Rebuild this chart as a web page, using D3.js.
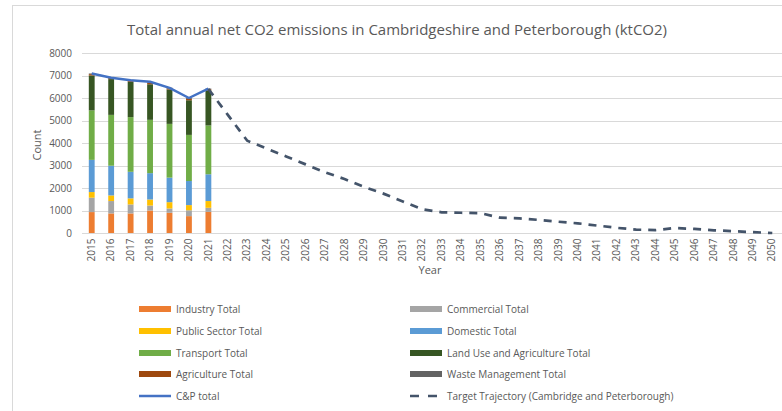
<!DOCTYPE html>
<html><head><meta charset="utf-8">
<script src="https://cdn.jsdelivr.net/npm/d3@7"></script>
<style>
html,body{margin:0;padding:0;background:#fff;}
svg{display:block;font-family:"Open Sans","Liberation Sans",sans-serif;}
</style></head>
<body>
<svg id="chart" width="782" height="411"></svg>
<script>
const years = d3.range(2015, 2051).map(String);
const histYears = ["2015","2016","2017","2018","2019","2020","2021"];
const industry     = [930, 870, 870, 1000, 900, 750, 940];
const commercial   = [640, 550, 400, 220, 190, 260, 180];
const publicSector = [250, 250, 270, 270, 280, 230, 300];
const domestic     = [1430, 1320, 1180, 1170, 1090, 1070, 1190];
const transport    = [2200, 2260, 2430, 2370, 2390, 2050, 2170];
const landUse      = [1550, 1590, 1570, 1580, 1530, 1540, 1560];
const agriculture  = [60, 60, 60, 60, 50, 60, 50];
const waste        = [30, 30, 30, 30, 30, 40, 30];
const cpTotal      = [7090, 6900, 6790, 6720, 6450, 6000, 6420];
const targetYears  = d3.range(2021, 2051).map(String);
const target       = [6400, 5250, 4100, 3750, 3400, 3050, 2700, 2400, 2050, 1750, 1400, 1050, 920, 900, 880, 680, 650, 580, 500, 430, 330, 230, 150, 130, 220, 180, 120, 80, 40, 0];
const yTicks = [0,1000,2000,3000,4000,5000,6000,7000,8000];
const title = "Total annual net CO2 emissions in Cambridgeshire and Peterborough (ktCO2)";

const series = [
  {name:"Industry Total", values:industry, color:"#ED7D31"},
  {name:"Commercial Total", values:commercial, color:"#A5A5A5"},
  {name:"Public Sector Total", values:publicSector, color:"#FFC000"},
  {name:"Domestic Total", values:domestic, color:"#5B9BD5"},
  {name:"Transport Total", values:transport, color:"#70AD47"},
  {name:"Land Use and Agriculture Total", values:landUse, color:"#375623"},
  {name:"Agriculture Total", values:agriculture, color:"#9E480E"},
  {name:"Waste Management Total", values:waste, color:"#636363"}
];

const svg = d3.select("#chart");
const textColor = "#595959";
const gridColor = "#D9D9D9";

// outer border
svg.append("rect").attr("x",12.5).attr("y",5.5).attr("width",800).attr("height",420)
  .attr("fill","none").attr("stroke","#D9D9D9").attr("stroke-width",1);

const x = d3.scaleBand().domain(years).range([82, 782]).paddingInner(0.7).paddingOuter(0.35);
const y = d3.scaleLinear().domain([0, 8000]).range([233, 53]);
const xc = d => x(d) + x.bandwidth()/2;

// title
svg.append("text").attr("x",397).attr("y",35).attr("text-anchor","middle")
  .attr("font-size",15).attr("fill",textColor).text(title);

// gridlines
svg.append("g").selectAll("line").data(yTicks).join("line")
  .attr("x1",82).attr("x2",782).attr("y1",d=>Math.round(y(d))+0.5).attr("y2",d=>Math.round(y(d))+0.5)
  .attr("stroke",gridColor).attr("stroke-width",1);

// y axis
const yAxis = svg.append("g").attr("transform","translate(76,0)")
  .call(d3.axisLeft(y).tickValues(yTicks).tickSize(0).tickPadding(4).tickFormat(d3.format("d")));
yAxis.select(".domain").remove();
yAxis.selectAll("text").attr("font-size",10).attr("fill",textColor).attr("font-family","'Open Sans',sans-serif");

// x axis
const xAxis = svg.append("g").attr("transform","translate(0,233)")
  .call(d3.axisBottom(x).tickSize(0).tickPadding(5));
xAxis.select(".domain").remove();
xAxis.selectAll("text").attr("font-size",10).attr("fill",textColor).attr("font-family","'Open Sans',sans-serif")
  .attr("transform","rotate(-90)").attr("text-anchor","end").attr("dx","-0.55em")
  .attr("x",0).attr("y",0).attr("dy","0.32em");

// stacked bars
const rows = histYears.map((yr,i)=>{ const o={year:yr}; series.forEach(s=>o[s.name]=s.values[i]); return o; });
const stack = d3.stack().keys(series.map(s=>s.name))(rows);
svg.append("g").selectAll("g").data(stack).join("g")
  .attr("fill",(d,i)=>series[i].color)
  .selectAll("rect").data(d=>d).join("rect")
  .attr("x",d=>x(d.data.year)).attr("width",x.bandwidth())
  .attr("y",d=>y(d[1])).attr("height",d=>y(d[0])-y(d[1]));

// C&P total line
svg.append("path").datum(histYears.map((yr,i)=>[yr,cpTotal[i]]))
  .attr("fill","none").attr("stroke","#4472C4").attr("stroke-width",2.5).attr("stroke-linejoin","round")
  .attr("d", d3.line().x(d=>xc(d[0])).y(d=>y(d[1])));

// target trajectory
svg.append("path").datum(targetYears.map((yr,i)=>[yr,target[i]]))
  .attr("fill","none").attr("stroke","#44546A").attr("stroke-width",2.7).attr("stroke-dasharray","8,7")
  .attr("d", d3.line().x(d=>xc(d[0])).y(d=>y(d[1])));

// axis titles
svg.append("text").attr("x",430).attr("y",274).attr("text-anchor","middle").attr("font-size",11)
  .attr("fill",textColor).text("Year");
svg.append("text").attr("transform","translate(41,145) rotate(-90)").attr("text-anchor","middle")
  .attr("font-size",11).attr("fill",textColor).text("Count");

// legend
const legendItems = [
  {name:"Industry Total", type:"rect", color:"#ED7D31"},
  {name:"Commercial Total", type:"rect", color:"#A5A5A5"},
  {name:"Public Sector Total", type:"rect", color:"#FFC000"},
  {name:"Domestic Total", type:"rect", color:"#5B9BD5"},
  {name:"Transport Total", type:"rect", color:"#70AD47"},
  {name:"Land Use and Agriculture Total", type:"rect", color:"#375623"},
  {name:"Agriculture Total", type:"rect", color:"#9E480E"},
  {name:"Waste Management Total", type:"rect", color:"#636363"},
  {name:"C&P total", type:"line", color:"#4472C4"},
  {name:"Target Trajectory (Cambridge and Peterborough)", type:"dash", color:"#44546A"}
];
const colX = [139, 410];
const rowY = [309, 331, 353, 374, 396];
const lg = svg.append("g").selectAll("g").data(legendItems).join("g")
  .attr("transform",(d,i)=>`translate(${colX[i%2]},${rowY[Math.floor(i/2)]})`);
lg.filter(d=>d.type==="rect").append("rect").attr("x",0).attr("y",-3).attr("width",32).attr("height",6).attr("fill",d=>d.color);
lg.filter(d=>d.type==="line").append("line").attr("x1",0).attr("x2",32).attr("y1",0).attr("y2",0)
  .attr("stroke",d=>d.color).attr("stroke-width",2.5);
lg.filter(d=>d.type==="dash").append("line").attr("x1",0).attr("x2",32).attr("y1",0).attr("y2",0)
  .attr("stroke",d=>d.color).attr("stroke-width",2.7).attr("stroke-dasharray","9,9");
lg.append("text").attr("x",37).attr("y",0).attr("dy","0.35em").attr("font-size",10).attr("fill",textColor)
  .text(d=>d.name);
</script>
</body></html>
